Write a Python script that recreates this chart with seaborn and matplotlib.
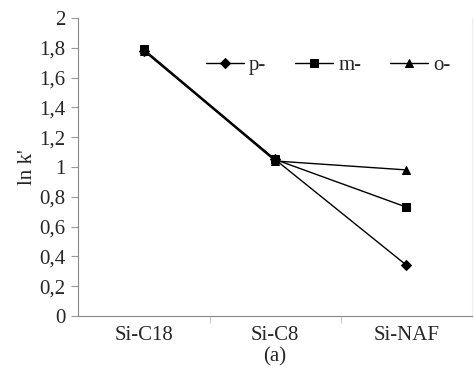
import pandas as pd
import matplotlib
matplotlib.use('Agg')
import matplotlib.pyplot as plt
import seaborn as sns

columns = ['Si-C18', 'Si-C8', 'Si-NAF']
p_vals = [1.78, 1.05, 0.34]
m_vals = [1.79, 1.05, 0.73]
o_vals = [1.78, 1.04, 0.98]
series = ['p-', 'm-', 'o-']
yticks = [0, 0.2, 0.4, 0.6, 0.8, 1, 1.2, 1.4, 1.6, 1.8, 2]
ytick_labels = ['0', '0,2', '0,4', '0,6', '0,8', '1', '1,2', '1,4', '1,6', '1,8', '2']

rows = []
for name, vals in zip(series, [p_vals, m_vals, o_vals]):
    for col, v in zip(columns, vals):
        rows.append({'column': col, 'lnk': v, 'isomer': name})
df = pd.DataFrame(rows)

sns.set_style('white')
plt.rcParams['font.family'] = ['Liberation Serif', 'DejaVu Serif']

fig = plt.figure(figsize=(4.74, 3.76), dpi=100)
ax = fig.add_axes([0.165, 0.16, 0.831, 0.792])

sns.lineplot(data=df, x='column', y='lnk', hue='isomer', style='isomer',
             markers={'p-': 'D', 'm-': 's', 'o-': '^'}, dashes=False,
             palette={'p-': 'black', 'm-': 'black', 'o-': 'black'},
             markersize=5.5, linewidth=1.0, markeredgecolor='black', ax=ax)

ax.set_xlim(-0.5, 2.5)
ax.set_ylim(0, 2)
ax.set_yticks(yticks)
ax.set_yticklabels(ytick_labels, fontsize=15)
ax.set_xticks([0, 1, 2])
ax.set_xticklabels(columns, fontsize=15)
ax.set_xticks([0.5, 1.5], minor=True)
ax.tick_params(axis='x', which='major', length=0, pad=7)
ax.tick_params(axis='x', which='minor', length=5, color='#bbbbbb', direction='out', bottom=True)
ax.tick_params(axis='y', length=5, color='#999999', direction='out', left=True, pad=4)

ax.spines['top'].set_visible(False)
ax.spines['right'].set_color('#eeeeee')
ax.spines['left'].set_color('#888888')
ax.spines['bottom'].set_color('#888888')

ax.set_xlabel('(a)', fontsize=15, labelpad=2)
ax.set_ylabel("ln k'", fontsize=15, labelpad=2)

ax.legend(loc='center', bbox_to_anchor=(0.635, 0.84), ncol=3, frameon=False,
          fontsize=15, handlelength=1.8, columnspacing=1.4, handletextpad=0.25,
          markerscale=1.0)

fig.savefig('out.png', dpi=100)
